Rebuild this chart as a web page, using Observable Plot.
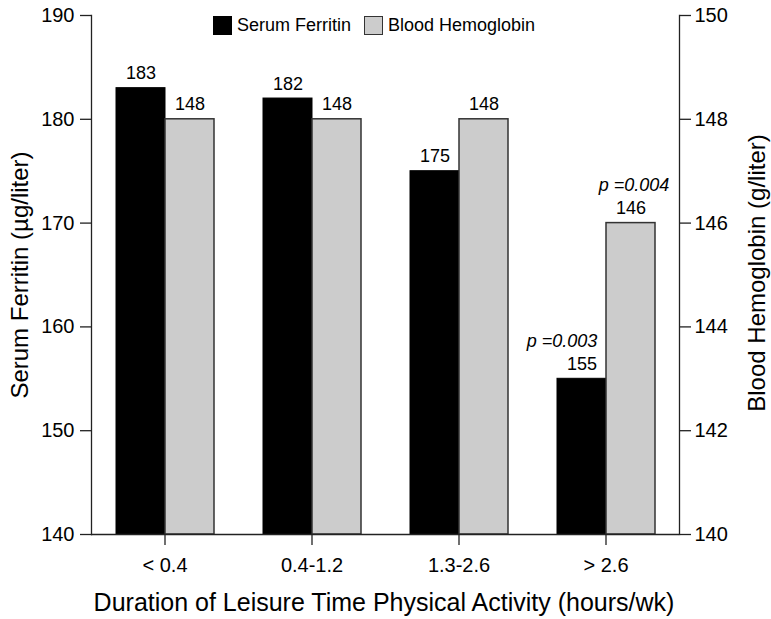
<!DOCTYPE html>
<html>
<head>
<meta charset="utf-8">
<script src="https://cdn.jsdelivr.net/npm/d3@7"></script>
<script src="https://cdn.jsdelivr.net/npm/@observablehq/plot@0.6"></script>
<style>
  html, body { margin: 0; padding: 0; background: #fff; }
  #wrap { position: relative; width: 771px; height: 619px; font-family: "Liberation Sans", Arial, Helvetica, sans-serif; color: #000; }
  #wrap svg { position: absolute; left: 0; top: 0; }
  .title { position: absolute; white-space: nowrap; font-size: 25px; transform: translate(-50%, -50%); }
  .rot { transform: translate(-50%, -50%) rotate(-90deg); font-size: 24px; }
  #legend { position: absolute; left: 213px; top: 15px; display: flex; align-items: center; font-size: 18px; }
  .sw { width: 19px; height: 19px; box-sizing: border-box; margin-right: 5px; }
  .item { display: flex; align-items: center; margin-right: 13px; }
</style>
</head>
<body>
<div id="wrap"></div>
<script>
const categories = ["< 0.4", "0.4-1.2", "1.3-2.6", "> 2.6"];
const seriesNames = ["Serum Ferritin", "Blood Hemoglobin"];
const ferritin = [183, 182, 175, 155];
const hemoglobin = [148, 148, 148, 146];
const ferritinTicks = [140, 150, 160, 170, 180, 190];
const hemoglobinTicks = [140, 142, 144, 146, 148, 150];
const pFerritin = [null, null, null, "p =0.003"];
const pHemoglobin = [null, null, null, "p =0.004"];
const xTitle = "Duration of Leisure Time Physical Activity (hours/wk)";
const yLeftTitle = "Serum Ferritin (\u00b5g/liter)";
const yRightTitle = "Blood Hemoglobin (g/liter)";

const hbToF = d3.scaleLinear()
  .domain([hemoglobinTicks[0], hemoglobinTicks[hemoglobinTicks.length - 1]])
  .range([ferritinTicks[0], ferritinTicks[ferritinTicks.length - 1]]);
const base = ferritinTicks[0];

const fRows = categories.map((c, i) => ({cat: c, series: seriesNames[0], value: ferritin[i], label: String(ferritin[i]), p: pFerritin[i]}));
const hRows = categories.map((c, i) => ({cat: c, series: seriesNames[1], value: hbToF(hemoglobin[i]), label: String(hemoglobin[i]), p: pHemoglobin[i]}));

const font = "'Liberation Sans', Arial, Helvetica, sans-serif";

const chart = Plot.plot({
  width: 771,
  height: 619,
  marginLeft: 90,
  marginRight: 92,
  marginTop: 15,
  marginBottom: 85,
  style: {fontFamily: font, background: "transparent", color: "#000"},
  fx: {domain: categories, padding: 0, axis: null},
  x: {domain: seriesNames, paddingInner: 0, paddingOuter: 0.5, axis: null},
  y: {domain: [ferritinTicks[0], ferritinTicks[ferritinTicks.length - 1]], axis: null},
  marks: [
    Plot.barY(fRows, {fx: "cat", x: "series", y1: base, y2: "value", fill: "#000", stroke: "#000", strokeWidth: 1}),
    Plot.barY(hRows, {fx: "cat", x: "series", y1: base, y2: "value", fill: "#cccccc", stroke: "#333", strokeWidth: 1.5}),
    Plot.text(fRows.concat(hRows), {fx: "cat", x: "series", y: "value", text: "label", dy: -9, lineAnchor: "bottom", fontSize: 18, fill: "#000"}),
    Plot.text(fRows.filter(d => d.p), {fx: "cat", x: "series", y: "value", text: "p", dx: -20, dy: -32, lineAnchor: "bottom", fontSize: 18, fontStyle: "italic", fill: "#000"}),
    Plot.text(hRows.filter(d => d.p), {fx: "cat", x: "series", y: "value", text: "p", dx: 3, dy: -32, lineAnchor: "bottom", fontSize: 18, fontStyle: "italic", fill: "#000"}),
    Plot.ruleY([base], {stroke: "#222", strokeWidth: 1.3}),
    Plot.frame({anchor: "left", facetAnchor: "left", stroke: "#222", strokeWidth: 1.3}),
    Plot.frame({anchor: "right", facetAnchor: "right", stroke: "#222", strokeWidth: 1.3}),
    Plot.axisY({anchor: "left", ticks: ferritinTicks, tickSize: 11, tickPadding: 6, fontSize: 20, label: null, stroke: "#222", strokeWidth: 1.3, fill: "#000"}),
    Plot.axisY({anchor: "right", ticks: hemoglobinTicks.map(hbToF), tickFormat: d => String(Math.round(hbToF.invert(d))), tickSize: 11, tickPadding: 4, fontSize: 20, label: null, stroke: "#222", strokeWidth: 1.3, fill: "#000"}),
    Plot.axisFx({anchor: "bottom", tickSize: 11, tickPadding: 12, fontSize: 20, label: null, stroke: "#222", strokeWidth: 1.3, fill: "#000"})
  ]
});

const wrap = document.getElementById("wrap");
wrap.appendChild(chart);

function addTitle(text, x, y, rotate) {
  const d = document.createElement("div");
  d.className = "title" + (rotate ? " rot" : "");
  d.textContent = text;
  d.style.left = x + "px";
  d.style.top = y + "px";
  wrap.appendChild(d);
}
addTitle(xTitle, 384, 602, false);
addTitle(yLeftTitle, 20, 275, true);
addTitle(yRightTitle, 757, 273, true);

const legend = document.createElement("div");
legend.id = "legend";
const swatches = [{fill: "#000", stroke: "#000"}, {fill: "#cccccc", stroke: "#333"}];
seriesNames.forEach((name, i) => {
  const item = document.createElement("div");
  item.className = "item";
  const sw = document.createElement("div");
  sw.className = "sw";
  sw.style.background = swatches[i].fill;
  sw.style.border = "1.5px solid " + swatches[i].stroke;
  const t = document.createElement("span");
  t.textContent = name;
  item.appendChild(sw);
  item.appendChild(t);
  legend.appendChild(item);
});
wrap.appendChild(legend);
</script>
</body>
</html>
